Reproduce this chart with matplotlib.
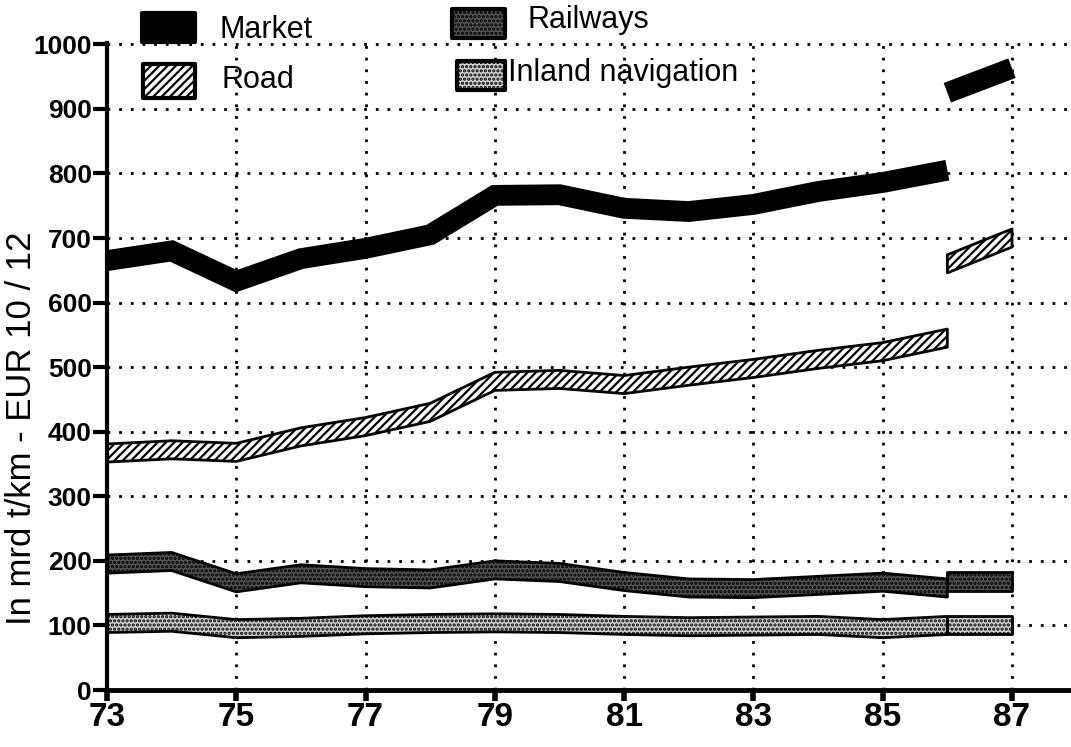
import numpy as np
import matplotlib
matplotlib.use("Agg")
import matplotlib.pyplot as plt
from matplotlib.patches import Rectangle

plt.rcParams.update({
    "font.family": ["Liberation Sans", "DejaVu Sans"],
    "hatch.linewidth": 1.6,
})

# ------------------------------------------------------------
# Data (mrd t/km)
# ------------------------------------------------------------
years = [73, 74, 75, 76, 77, 78, 79, 80, 81, 82, 83, 84, 85, 86]
market = [665, 680, 633, 668, 684, 705, 766, 767, 746, 741, 752, 772, 786, 805]
road = [367, 372, 368, 392, 408, 430, 478, 481, 473, 486, 498, 512, 524, 545]
railways = [195, 199, 166, 180, 174, 172, 186, 182, 168, 158, 157, 162, 167, 158]
inland = [103, 105, 95, 97, 101, 103, 104, 103, 100, 98, 99, 100, 95, 100]

# separate (new basis) segment 86-87
years_late = [86, 87]
market_late = [925, 963]
road_late = [660, 700]
railways_late = [168, 168]
inland_late = [100, 100]

x_ticks = [73, 75, 77, 79, 81, 83, 85, 87]
y_ticks = [0, 100, 200, 300, 400, 500, 600, 700, 800, 900, 1000]
names = ["Market", "Road", "Railways", "Inland navigation"]

# ------------------------------------------------------------
# Figure
# ------------------------------------------------------------
W, H = 1071, 747
fig = plt.figure(figsize=(W / 100, H / 100), dpi=100)
ax = fig.add_axes([107 / W, 57 / H, 1 - 107 / W, 647 / H])

dot_style = (0, (1, 3.2))
ax.grid(True, color="black", linestyle=dot_style, linewidth=2)
ax.set_axisbelow(True)

half = 14
rail_face = "#555555"
inland_face = "#d4d4d4"


def band(x, y, face, hatch):
    y = np.asarray(y, dtype=float)
    ax.fill_between(x, y - half, y + half, facecolor=face, hatch=hatch,
                    edgecolor="black", linewidth=2, zorder=3)


# inland navigation and railways: stippled bands
band(years, inland, inland_face, "....")
band(years_late, inland_late, inland_face, "....")
band(years, railways, rail_face, "....")
band(years_late, railways_late, rail_face, "....")

# road: hatched band
band(years, road, "white", "////")
band(years_late, road_late, "white", "////")

# market: solid thick line
for xs, ys in [(years, market), (years_late, market_late)]:
    ax.plot(xs, ys, color="black", linewidth=15, solid_capstyle="butt",
            solid_joinstyle="miter", zorder=4)

ax.set_xlim(73, 87 + (W - 1012) / 64.64)
ax.set_ylim(0, 1002)
ax.set_xticks(x_ticks)
ax.set_xticklabels([str(v) for v in x_ticks], fontweight="bold")
ax.set_yticks(y_ticks)
ax.set_yticklabels([str(v) for v in y_ticks], fontweight="bold")

for s in ["top", "right"]:
    ax.spines[s].set_visible(False)
ax.spines["left"].set_linewidth(3)
ax.spines["bottom"].set_linewidth(3.5)
ax.spines["left"].set_zorder(5)
ax.spines["bottom"].set_zorder(5)

ax.tick_params(axis="y", length=10, width=3, labelsize=19, pad=1)
ax.tick_params(axis="x", length=8, width=4, labelsize=24, pad=1)

fig.text(22 / W, 1 - 428 / H, "In mrd t/km - EUR 10 / 12", rotation=90,
         fontsize=25, ha="center", va="center")

# ------------------------------------------------------------
# Legend (drawn by hand, two columns at the top)
# ------------------------------------------------------------
legend_boxes = [
    (142, 13, 53, 29, "black", None),
    (143, 64, 52, 34, "white", "////"),
    (452, 9, 53, 29, rail_face, "...."),
    (457, 61, 48, 29, inland_face, "...."),
]
legend_text_pos = [(220, 30), (222, 80), (527, 20), (508, 73)]

for (x0, y0, w, h, face, hatch), name, (tx, ty) in zip(legend_boxes, names, legend_text_pos):
    fig.add_artist(Rectangle((x0 / W, 1 - (y0 + h) / H), w / W, h / H,
                             transform=fig.transFigure, facecolor=face,
                             hatch=hatch, edgecolor="black", linewidth=3,
                             joinstyle="round"))
    fig.text(tx / W, 1 - ty / H, name, fontsize=22, ha="left", va="center")

fig.savefig("out.png", dpi=100)
